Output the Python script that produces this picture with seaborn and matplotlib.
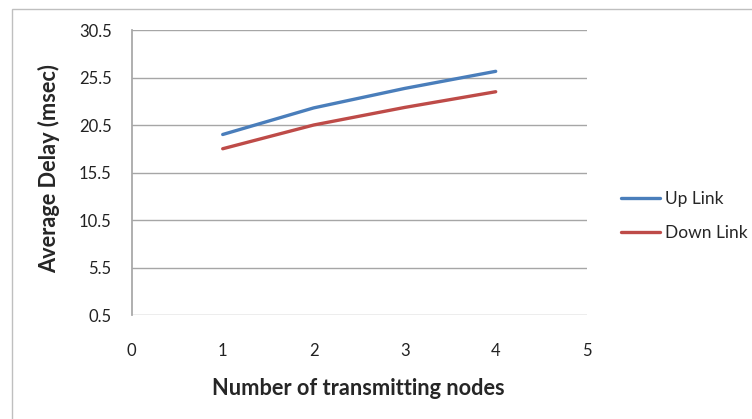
import matplotlib
matplotlib.use("Agg")
import matplotlib.pyplot as plt
import seaborn as sns
import pandas as pd
from matplotlib.patches import Rectangle
from matplotlib.lines import Line2D

# Data
nodes = [1, 2, 3, 4]
up_link = [19.5, 22.3, 24.35, 26.15]
down_link = [18.0, 20.5, 22.35, 24.0]
series_names = ["Up Link", "Down Link"]
y_ticks = [0.5, 5.5, 10.5, 15.5, 20.5, 25.5, 30.5]
x_ticks = [0, 1, 2, 3, 4, 5]

df = pd.DataFrame({
    "nodes": nodes * 2,
    "delay": up_link + down_link,
    "series": [series_names[0]] * len(nodes) + [series_names[1]] * len(nodes),
})

sns.set_theme(style="white")
plt.rcParams["font.family"] = ["Lato", "DejaVu Sans"]

W, H = 752, 419
fig = plt.figure(figsize=(W / 100, H / 100), dpi=100)
ax = fig.add_axes([131.7 / W, 1 - 315 / H, 455 / W, 285 / H])

# outer chart frame
fig.patches.append(Rectangle((12 / W, -0.05), 1.0, 1 - 9 / H + 0.05,
                             transform=fig.transFigure, fill=False,
                             edgecolor="#BFBFBF", linewidth=1.0))

palette = {"Up Link": "#4A7EBB", "Down Link": "#BE4B48"}
sns.lineplot(data=df, x="nodes", y="delay", hue="series", palette=palette,
             linewidth=2.4, ax=ax, legend=False)

ax.set_xlim(0, 5)
ax.set_ylim(0.5, 30.5)
ax.set_xticks(x_ticks)
ax.set_yticks(y_ticks)
ax.set_yticklabels([f"{v:.1f}" for v in y_ticks])
ax.yaxis.grid(True, color="#A6A6A6", linewidth=1.0)
ax.xaxis.grid(False)
for s in ["top", "right", "bottom"]:
    ax.spines[s].set_visible(False)
ax.spines["left"].set_color("#A6A6A6")
ax.tick_params(axis="both", length=0, labelsize=12, colors="#222222")
ax.tick_params(axis="y", pad=14.5)
ax.tick_params(axis="x", pad=20)
ax.set_xlabel("")
ax.set_ylabel("")

# axis titles
fig.text(358.5 / W, 1 - 388 / H, "Number of transmitting nodes",
         fontsize=15.7, fontweight="bold", ha="center", va="center")
fig.text(49 / W, 1 - 168.5 / H, "Average Delay (msec)", rotation=90,
         fontsize=15.7, fontweight="bold", ha="center", va="center")

# legend at right
handles = [Line2D([0], [0], color=palette[n], linewidth=2.4) for n in series_names]
fig.legend(handles, series_names, loc="center left",
           bbox_to_anchor=(621 / W, 1 - 216 / H), frameon=False,
           borderpad=0, borderaxespad=0,
           fontsize=12.5, handlelength=2.25, handletextpad=0.3,
           labelspacing=1.05)

fig.savefig("out.png", dpi=100)
